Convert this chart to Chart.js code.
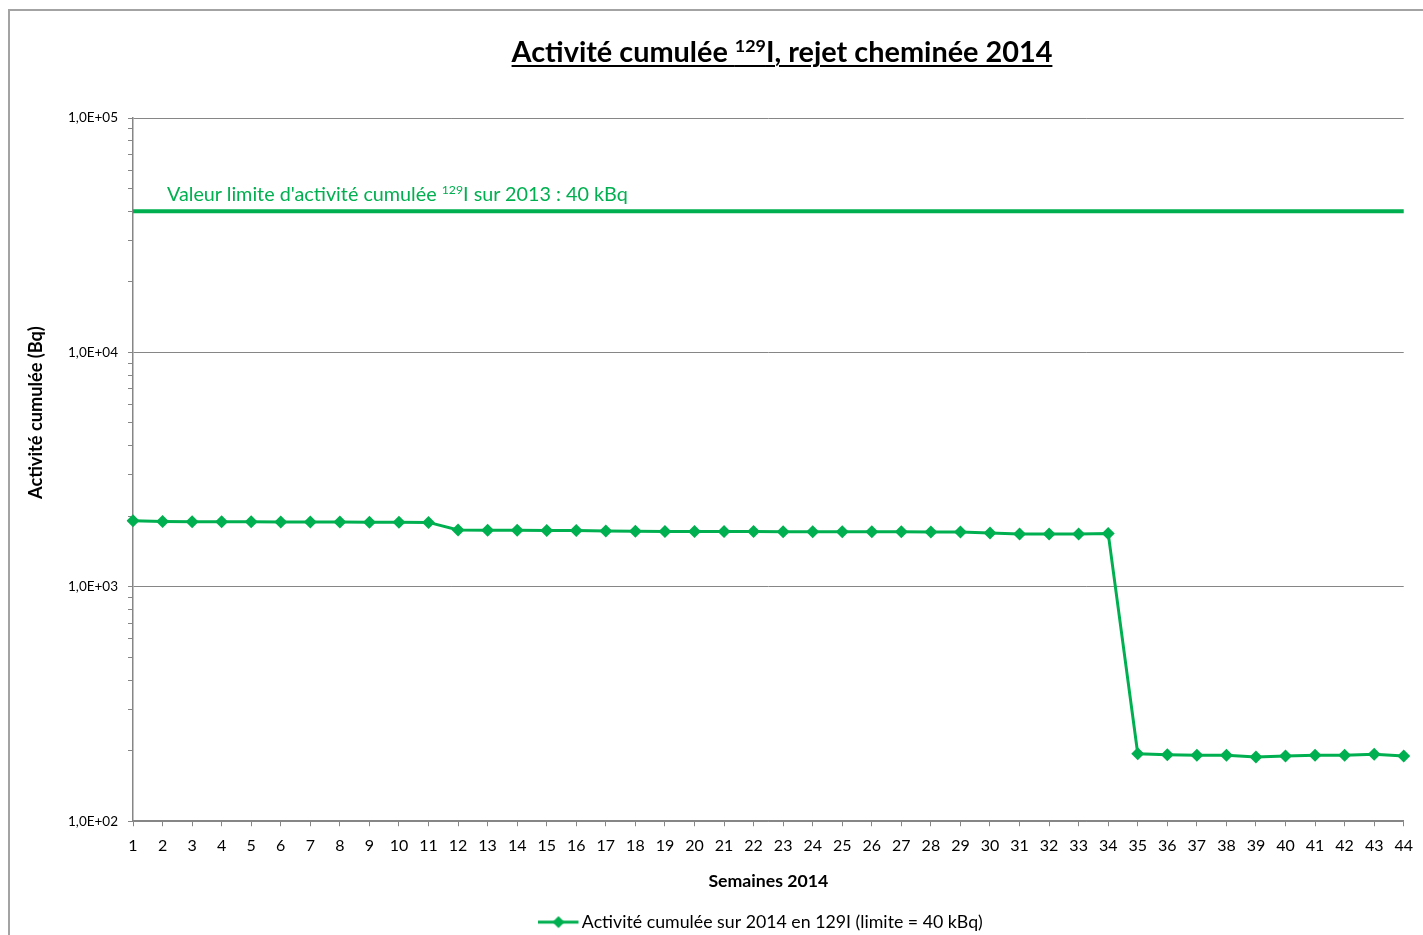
<!DOCTYPE html>
<html><head><meta charset="utf-8">
<script src="https://cdn.jsdelivr.net/npm/chart.js@4.4.1/dist/chart.umd.min.js"></script>
<style>
html,body{margin:0;padding:0;background:#fff;}
#wrap{position:relative;width:1423px;height:935px;overflow:hidden;font-family:Lato,"Open Sans",sans-serif;}
#frame{position:absolute;left:8px;top:9px;width:1500px;height:1000px;border-left:2px solid #a3a3a3;border-top:2px solid #a3a3a3;box-sizing:border-box;}
#chart{position:absolute;left:0;top:0;}
.txt{position:absolute;white-space:nowrap;line-height:1.2;}
#title{font-weight:bold;color:#000;text-decoration:underline;text-decoration-thickness:2px;text-underline-offset:3px;}
#title sup,#limitLabel sup{font-size:0.62em;vertical-align:0.55em;line-height:0;}
#limitLabel{color:#00B050;}
#ytitle{font-weight:bold;color:#000;transform-origin:0 0;}
</style>
</head><body>
<div id="wrap">
  <div id="frame"></div>
  <canvas id="chart" width="1423" height="935"></canvas>
  <div id="title" class="txt">Activité cumulée <sup>129</sup>I, rejet cheminée 2014</div>
  <div id="limitLabel" class="txt">Valeur limite d'activité cumulée <sup>129</sup>I sur 2013 : 40 kBq</div>
  <div id="ytitle" class="txt">Activité cumulée (Bq)</div>
</div>
<script>
// ---- data ----
const weeks = ['1','2','3','4','5','6','7','8','9','10','11','12','13','14','15','16','17','18','19','20','21','22','23','24','25','26','27','28','29','30','31','32','33','34','35','36','37','38','39','40','41','42','43','44'];
const cumulActivity = [1915,1900,1895,1895,1893,1890,1890,1890,1885,1885,1883,
                       1747,1745,1742,1740,1740,1730,1725,1723,1723,1722,1720,
                       1718,1718,1718,1717,1716,1713,1712,1696,1680,1680,1680,1690,
                       194,192,191,191,188,190,191,191,193,190];
const limitValue = 40000;
const limitSeries = weeks.map(() => limitValue);
const yTickValues = [100, 1000, 10000, 100000];
const yTickLabels = ['1,0E+02', '1,0E+03', '1,0E+04', '1,0E+05'];
const seriesLabel = 'Activité cumulée sur 2014 en 129I (limite = 40 kBq)';
const xTitle = 'Semaines 2014';

// ---- styles ----
const GREEN = '#00B050';
const GRAY = '#868686';
const FAMILY = 'Lato, "Open Sans", sans-serif';

function fitEl(id, target) {
  const el = document.getElementById(id);
  el.style.fontSize = '100px';
  const w = el.getBoundingClientRect().width;
  const fs = 100 * target / w;
  el.style.fontSize = fs + 'px';
  return fs;
}
function measureFs(text, weight, target) {
  const c = document.createElement('canvas').getContext('2d');
  c.font = weight + ' 100px ' + FAMILY;
  return 100 * target / c.measureText(text).width;
}

const tfs = fitEl('title', 541);
const t = document.getElementById('title');
t.style.left = (782 - t.getBoundingClientRect().width / 2) + 'px';
t.style.top = (63 - tfs * 0.99) + 'px';

const lfs = fitEl('limitLabel', 461);
const l = document.getElementById('limitLabel');
l.style.left = '167px';
l.style.top = (202 - lfs * 0.99) + 'px';

fitEl('ytitle', 173);
const yt = document.getElementById('ytitle');
const yw = yt.getBoundingClientRect().width, yh = yt.getBoundingClientRect().height;
yt.style.left = (36 - yh / 2) + 'px';
yt.style.top = (413 + yw / 2) + 'px';
yt.style.transform = 'rotate(-90deg)';

const legendFs = Math.min(18, measureFs(seriesLabel, 'normal', 401));
const xTitleFs = measureFs(xTitle, 'bold', 120);

// legend symbol: line with diamond
const sym = document.createElement('canvas');
sym.width = 50; sym.height = 14;
(function () {
  const c = sym.getContext('2d');
  c.strokeStyle = GREEN; c.lineWidth = 3;
  c.beginPath(); c.moveTo(0, 7); c.lineTo(40, 7); c.stroke();
  c.fillStyle = GREEN;
  c.beginPath(); c.moveTo(20, 1); c.lineTo(26, 7); c.lineTo(20, 13); c.lineTo(14, 7); c.closePath(); c.fill();
})();

new Chart(document.getElementById('chart'), {
  type: 'line',
  data: {
    labels: weeks,
    datasets: [
      {
        label: seriesLabel,
        data: cumulActivity,
        borderColor: GREEN, backgroundColor: GREEN,
        borderWidth: 3,
        pointStyle: 'rectRot', pointRadius: 6.5, pointHoverRadius: 6.5,
        pointBackgroundColor: GREEN, pointBorderColor: GREEN, pointBorderWidth: 0,
        tension: 0
      },
      {
        label: 'Valeur limite',
        data: limitSeries,
        borderColor: GREEN, backgroundColor: GREEN,
        borderWidth: 4, pointRadius: 0, pointHoverRadius: 0, tension: 0
      }
    ]
  },
  options: {
    responsive: false, animation: false, devicePixelRatio: 1,
    layout: { padding: { top: 118, right: 18, left: 0, bottom: -6 } },
    plugins: {
      tooltip: { enabled: false },
      title: { display: false },
      legend: {
        position: 'bottom', fullSize: false,
        labels: {
          filter: (it) => it.datasetIndex === 0,
          usePointStyle: true, pointStyle: sym, pointStyleWidth: 19,
          color: '#000', padding: 10,
          font: { family: FAMILY, size: legendFs }
        }
      }
    },
    scales: {
      x: {
        type: 'category', offset: false,
        grid: { display: true, drawOnChartArea: false, drawTicks: true, tickLength: 5, color: GRAY, offset: false },
        border: { color: GRAY, width: 1.5 },
        ticks: { color: '#000', font: { family: FAMILY, size: 16 }, padding: 10, autoSkip: false, maxRotation: 0, minRotation: 0 },
        title: { display: true, text: xTitle, color: '#000', font: { family: FAMILY, size: xTitleFs, weight: 'bold' }, padding: { top: 4, bottom: 11 } },
        afterFit: (s) => { s.height = 82; }
      },
      y: {
        type: 'logarithmic', min: 100, max: 100000,
        afterBuildTicks: (s) => {
          const ticks = [];
          yTickValues.forEach((d, i) => {
            ticks.push({ value: d, major: true });
            if (i < yTickValues.length - 1) for (let k = 2; k <= 9; k++) ticks.push({ value: d * k, major: false });
          });
          s.ticks = ticks;
        },
        ticks: {
          autoSkip: false, color: '#000', padding: 10,
          font: { family: FAMILY, size: 13.5 },
          callback: (v) => { const i = yTickValues.indexOf(v); return i >= 0 ? yTickLabels[i] : ''; }
        },
        grid: {
          color: (ctx) => (ctx.tick && yTickValues.includes(ctx.tick.value)) ? GRAY : 'rgba(0,0,0,0)',
          tickColor: GRAY, tickLength: 5, lineWidth: 1
        },
        border: { color: GRAY, width: 1.5 },
        afterFit: (s) => { s.width = 133; }
      }
    }
  }
});
</script>
</body></html>
